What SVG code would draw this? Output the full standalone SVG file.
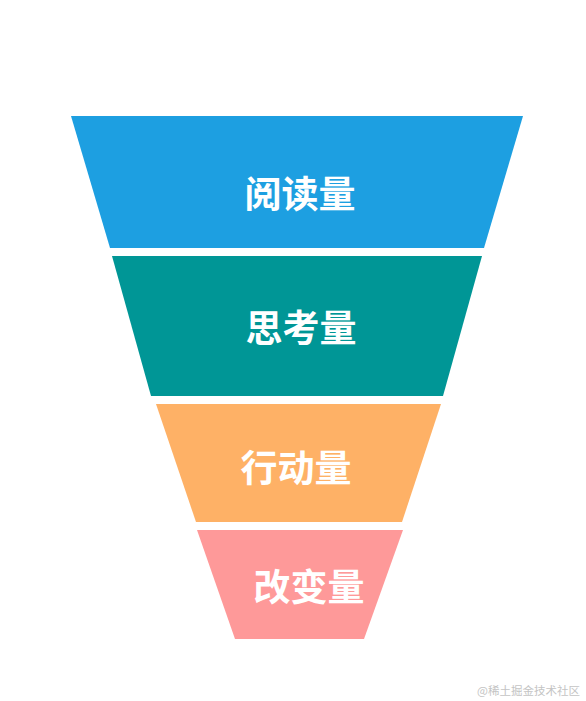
<svg xmlns="http://www.w3.org/2000/svg" width="586" height="701" viewBox="0 0 586 701">
<style>
.lbl{font-family:"Noto Sans CJK SC","Noto Sans",sans-serif;font-weight:bold;font-size:37px;fill:#ffffff;text-anchor:middle}
.wm{font-family:"Noto Sans CJK SC","Noto Sans",sans-serif;font-size:11.5px;fill:#c4c4c4;text-anchor:end}
</style>
<rect width="586" height="701" fill="#ffffff"/>
<g id="stage1">
<polygon points="71,116 523,116 484,248 110,248" fill="#1d9fe1"/>
<text class="lbl" x="300" y="208">阅读量</text>
</g>
<g id="stage2">
<polygon points="112,256 482,256 443,396 151,396" fill="#009696"/>
<text class="lbl" x="301" y="342">思考量</text>
</g>
<g id="stage3">
<polygon points="156,404 441,404 402,522 196,522" fill="#feb166"/>
<text class="lbl" x="296" y="482">行动量</text>
</g>
<g id="stage4">
<polygon points="197,530 403,530 364,639 235,639" fill="#fe9999"/>
<text class="lbl" x="309" y="601">改变量</text>
</g>
<g id="connectors"></g>
<text class="wm" x="580" y="695">@稀土掘金技术社区</text>
</svg>
